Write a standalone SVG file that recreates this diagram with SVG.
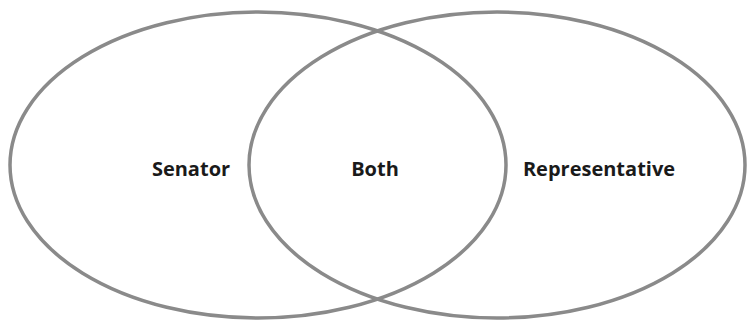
<svg xmlns="http://www.w3.org/2000/svg" width="753" height="322" viewBox="0 0 753 322">
<style>
.ring{fill:none;stroke:#8a8a8a;stroke-width:3.5}
.lbl{font-family:"Open Sans","Liberation Sans",sans-serif;font-weight:bold;font-size:20px;fill:#1a1a1a;text-anchor:middle}
</style>
<rect width="753" height="322" fill="#ffffff"/>
<g id="senator">
<ellipse class="ring" cx="258" cy="165" rx="248" ry="153"/>
<text class="lbl" x="191" y="176">Senator</text>
</g>
<g id="representative">
<ellipse class="ring" cx="497" cy="165" rx="248" ry="153"/>
<text class="lbl" x="599" y="176">Representative</text>
</g>
<g id="both">
<text class="lbl" x="375" y="176">Both</text>
</g>
<g id="connectors"/>
</svg>
